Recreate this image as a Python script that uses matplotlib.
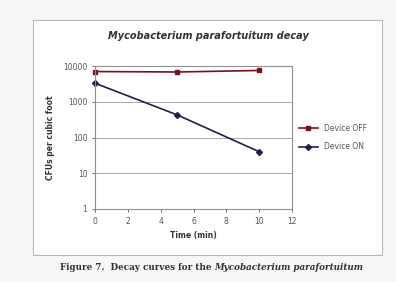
import matplotlib.pyplot as plt
from matplotlib.patches import Rectangle

# data
time_min = [0, 5, 10]
device_off = [7000, 6800, 7500]
device_on = [3300, 430, 40]
y_ticks = [1, 10, 100, 1000, 10000]
x_ticks = [0, 2, 4, 6, 8, 10, 12]

fig = plt.figure(figsize=(3.96, 2.82), dpi=100)
fig.patch.set_facecolor('#f7f7f5')

# outer chart frame
fig.patches.append(Rectangle((33/396, 1-255/282), (382-33)/396, (255-20)/282,
                             transform=fig.transFigure, facecolor='white',
                             edgecolor='#b8b8b8', lw=0.8, zorder=-5))

ax = fig.add_axes([95/396, 1-209/282, (292-95)/396, (209-66)/282])
ax.set_zorder(2)
ax.set_yscale('log')
ax.set_ylim(1, 10000)
ax.set_xlim(0, 12)
ax.set_yticks(y_ticks)
ax.set_yticklabels([str(v) for v in y_ticks])
ax.minorticks_off()
ax.set_xticks(x_ticks)
ax.yaxis.grid(True, color='#a8a8a8', lw=0.7)
ax.set_axisbelow(True)
for s in ax.spines.values():
    s.set_color('#909090')
    s.set_linewidth(0.8)
ax.tick_params(labelsize=5.5, colors='#555555', length=2, width=0.6)

ax.plot(time_min, device_off, color='#7a1020', marker='s', ms=3.5, lw=1.2,
        label='Device OFF', clip_on=False)
ax.plot(time_min, device_on, color='#1c1f4a', marker='D', ms=3, lw=1.2,
        label='Device ON', clip_on=False)

ax.set_xlabel('Time (min)', fontsize=5.5, fontweight='bold', color='#333333', labelpad=4)
ax.set_ylabel('CFUs per cubic foot', fontsize=5.5, fontweight='bold', color='#333333', labelpad=6)
fig.text(208/396, 1-36/282, 'Mycobacterium parafortuitum decay', fontsize=7,
         fontweight='bold', style='italic', color='#333333', ha='center', va='center')

ax.legend(loc='center left', bbox_to_anchor=(1.0, 0.5), fontsize=5.5, frameon=False,
          handlelength=2.5, labelcolor='#555555', labelspacing=1.3)

# caption below the frame
t1 = fig.text(60/396, 1-267/282, 'Figure 7.  Decay curves for the ', fontsize=6.3,
              family='DejaVu Serif', fontweight='bold', color='#333333', va='center')
ax.annotate('Mycobacterium parafortuitum', xy=(1, 0), xycoords=t1, va='bottom',
            fontsize=6.3, family='DejaVu Serif', fontweight='bold', style='italic',
            color='#333333')

fig.savefig('out.png', dpi=100, facecolor=fig.get_facecolor())
